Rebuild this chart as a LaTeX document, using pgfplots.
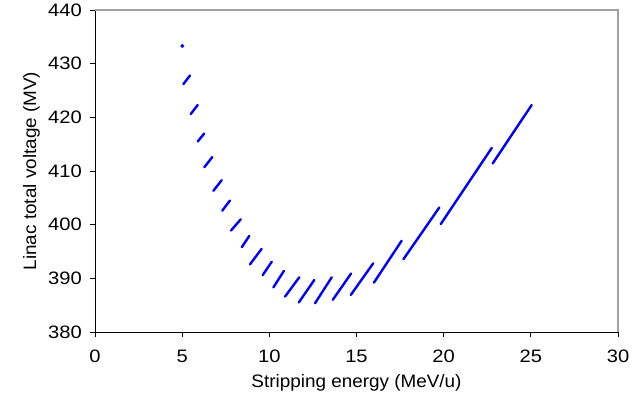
\documentclass[border=0pt]{standalone}
\usepackage{fontspec}
\setmainfont{Liberation Sans}
\usepackage{graphicx}
\usepackage{pgfplots}
\pgfplotsset{compat=1.18}
\definecolor{frame}{RGB}{160,160,160}
\begin{document}
\fontsize{18bp}{21bp}\selectfont
\begin{tikzpicture}
\begin{axis}[
  scale only axis, width=523bp, height=322bp,
  xmin=0, xmax=30, ymin=380, ymax=440,
  xtick={0,5,...,30}, ytick={380,390,...,440},
  axis lines*=left,
  tick align=outside, major tick length=5bp,
  tick style={black, line width=0.8bp},
  axis line style={black, line width=0.8bp},
  /pgf/number format/assume math mode=true,
  ticklabel style={font=\fontsize{18bp}{21bp}\selectfont, inner sep=2bp},
  xticklabel={\scalebox{1.12}[1]{\pgfmathprintnumber{\tick}}},
  yticklabel={\scalebox{1.12}[1]{\pgfmathprintnumber{\tick}}},
  xticklabel style={yshift=-11bp},
  yticklabel style={xshift=-6bp},
  label style={font=\fontsize{18bp}{21bp}\selectfont},
  xlabel={\scalebox{1.05}[1]{Stripping energy (MeV/u)}},
  ylabel={\scalebox{1.05}[1]{Linac total voltage (MV)}},
  xlabel style={yshift=-3bp},
  unbounded coords=jump,
  clip=false,
]
\draw[frame, line width=1.2bp] (rel axis cs:0,1) -- (rel axis cs:1,1) -- (rel axis cs:1,0);
\addplot[only marks, mark=*, mark size=1.8bp, blue] coordinates {(5.01,433.3)};
\addplot[blue, line width=2.4bp, line cap=round] table {
x y
5.07 426.2
5.45 427.8
nan nan
5.49 420.6
5.89 422.3
nan nan
5.89 415.5
6.27 417.0
nan nan
6.27 410.7
6.73 412.6
nan nan
6.79 406.3
7.27 408.3
nan nan
7.30 402.6
7.74 404.5
nan nan
7.80 398.9
8.36 401.0
nan nan
8.42 395.8
8.85 397.9
nan nan
8.89 392.6
9.56 395.5
nan nan
9.62 390.6
10.14 393.1
nan nan
10.23 388.3
10.84 391.4
nan nan
10.90 386.6
11.72 390.2
nan nan
11.69 385.5
12.58 389.7
nan nan
12.62 385.35
13.58 390.2
nan nan
13.64 386.0
14.69 390.9
nan nan
14.67 386.9
15.96 392.8
nan nan
16.00 389.2
17.59 397.0
nan nan
17.69 393.55
19.75 403.2
nan nan
19.83 400.1
22.76 414.3
nan nan
22.81 411.4
25.05 422.3
};
\end{axis}
\path (current axis.south west) ++(-95bp,-72bp) rectangle ++(639bp,404bp);
\end{tikzpicture}
\end{document}
